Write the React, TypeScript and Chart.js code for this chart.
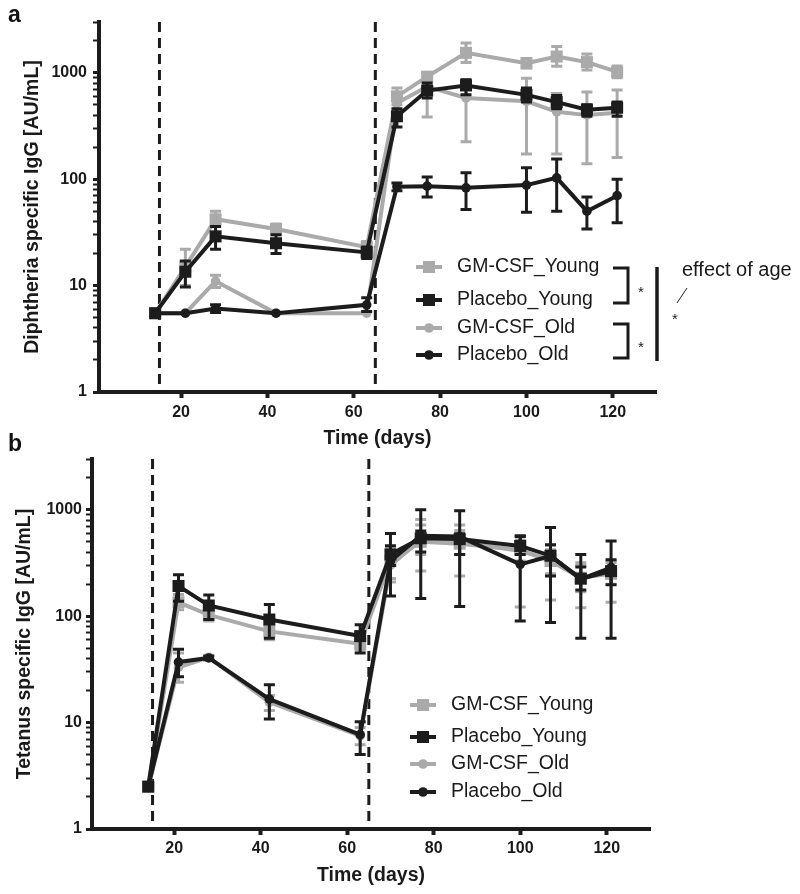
import React, { useEffect, useRef } from 'react';
import { Chart, registerables } from 'chart.js';
Chart.register(...registerables);

// ---------- shared data ----------
const days = [14, 21, 28, 42, 63, 70, 77, 86, 100, 107, 114, 121];
const seriesNames = ['GM-CSF_Young', 'Placebo_Young', 'GM-CSF_Old', 'Placebo_Old'];
const xTicks = [20, 40, 60, 80, 100, 120];
const yLabelTicks = [1, 10, 100, 1000];
const yMinorSteps = [2, 3, 4, 5, 6, 7, 8, 9];
const vaccinationDays = [15, 65];

// ---------- panel a: Diphtheria ----------
const diphGmYoung = [5.5, 15, 42, 34, 23, 600, 920, 1540, 1230, 1420, 1260, 1020];
const diphGmYoungHi = [5.5, 22, 50, 38, 26, 720, 1000, 1900, 1360, 1770, 1500, 1160];
const diphGmYoungLo = [5.5, 10, 36, 30, 20, 500, 840, 1250, 1110, 1150, 1060, 900];

const diphPlYoung = [5.5, 13.5, 29, 25, 20.5, 390, 680, 760, 620, 530, 450, 470];
const diphPlYoungHi = [5.5, 17, 36, 30, 23, 460, 800, 860, 720, 610, 500, 530];
const diphPlYoungLo = [5.5, 9.7, 22, 20, 18, 310, 580, 620, 530, 460, 390, 390];

const diphGmOld = [5.5, 5.5, 11, 5.5, 5.5, 520, 740, 580, 540, 430, 400, 420];
const diphGmOldHi = [5.5, 5.5, 12.5, 5.5, 5.5, 650, 900, 860, 890, 640, 660, 690];
const diphGmOldLo = [5.5, 5.5, 9.6, 5.5, 5.5, 400, 385, 225, 172, 172, 140, 160];

const diphPlOld = [5.5, 5.5, 6.1, 5.5, 6.6, 85, 86, 83, 88, 103, 50, 70];
const diphPlOldHi = [5.5, 5.5, 6.6, 5.5, 7.7, 92, 105, 115, 128, 155, 68, 100];
const diphPlOldLo = [5.5, 5.5, 5.6, 5.5, 5.7, 78, 68, 52, 49, 50, 34, 39];

// ---------- panel b: Tetanus ----------
const tetGmYoung = [2.5, 135, 103, 72, 55, 330, 500, 480, 420, 330, 230, 250];
const tetGmYoungHi = [2.5, 160, 120, 85, 62, 444, 810, 720, 520, 465, 318, 318];
const tetGmYoungLo = [2.5, 115, 90, 60, 48, 226, 266, 238, 122, 142, 120, 135];

const tetPlYoung = [2.5, 192, 126, 93, 65, 380, 540, 530, 457, 370, 225, 265];
const tetPlYoungHi = [2.5, 245, 158, 129, 83, 460, 630, 595, 560, 470, 290, 340];
const tetPlYoungLo = [2.5, 138, 93, 62, 45, 300, 400, 380, 380, 238, 176, 197];

const tetGmOld = [2.5, 33, 41, 15.5, 7.5, 300, 520, 500, 410, 340, 230, 260];
const tetGmOldHi = [2.5, 45, 43, 18, 9, 420, 720, 640, 500, 420, 300, 330];
const tetGmOldLo = [2.5, 24, 39, 13, 6.2, 210, 380, 380, 330, 250, 170, 200];

const tetPlOld = [2.5, 37, 40.5, 16.6, 7.7, 330, 570, 560, 307, 368, 223, 286];
const tetPlOldHi = [2.5, 49, 42, 22.7, 10.2, 600, 1000, 980, 570, 680, 380, 510];
const tetPlOldLo = [2.5, 27, 39, 10.8, 5, 155, 147, 123, 90, 87, 62, 62];

// ---------- styles ----------
const GRAY = '#aaaaaa';
const BLACK = '#1c1c1c';
const FONT = '"Liberation Sans", Arial, Helvetica, sans-serif';

const seriesStyle = [
  { color: GRAY, style: 'rect', radius: 8.5, order: 1 },
  { color: BLACK, style: 'rect', radius: 8.5, order: 0 },
  { color: GRAY, style: 'circle', radius: 4.8, order: 1 },
  { color: BLACK, style: 'circle', radius: 4.8, order: 0 },
];

function buildDatasets(means: number[][], his: number[][], los: number[][]) {
  return means.map((m, s) => ({
    label: seriesNames[s],
    data: days.map((d, i) => ({ x: d, y: m[i] })),
    errHi: his[s],
    errLo: los[s],
    borderColor: seriesStyle[s].color,
    backgroundColor: seriesStyle[s].color,
    pointBackgroundColor: seriesStyle[s].color,
    pointBorderColor: seriesStyle[s].color,
    pointBorderWidth: 0,
    pointStyle: seriesStyle[s].style,
    pointRadius: seriesStyle[s].radius,
    borderWidth: 4,
    tension: 0,
    order: seriesStyle[s].order,
  }));
}

function drawMarker(ctx: CanvasRenderingContext2D, style: string, r: number, x: number, y: number, color: string) {
  ctx.fillStyle = color;
  ctx.beginPath();
  if (style === 'rect') {
    const s = Math.SQRT1_2 * r;
    ctx.rect(x - s, y - s, 2 * s, 2 * s);
  } else {
    ctx.arc(x, y, r, 0, Math.PI * 2);
  }
  ctx.fill();
}

const errorBarPlugin = {
  id: 'errorBars',
  beforeDatasetDraw(chart: any, args: any) {
    const ds = chart.data.datasets[args.index];
    if (!ds.errHi) return;
    const { ctx, scales } = chart;
    const x = scales.x, y = scales.y;
    ctx.save();
    ctx.strokeStyle = ds.borderColor;
    ctx.lineWidth = 3;
    ds.data.forEach((pt: any, i: number) => {
      const px = x.getPixelForValue(pt.x);
      const yh = y.getPixelForValue(ds.errHi[i]);
      const yl = y.getPixelForValue(ds.errLo[i]);
      if (Math.abs(yl - yh) < 1) return;
      ctx.beginPath();
      ctx.moveTo(px, yl); ctx.lineTo(px, yh);
      ctx.moveTo(px - 5.5, yl); ctx.lineTo(px + 5.5, yl);
      ctx.moveTo(px - 5.5, yh); ctx.lineTo(px + 5.5, yh);
      ctx.stroke();
    });
    ctx.restore();
  },
};

const dashedPlugin = {
  id: 'dashedLines',
  beforeDatasetsDraw(chart: any) {
    const { ctx, chartArea, scales } = chart;
    ctx.save();
    ctx.strokeStyle = BLACK;
    ctx.lineWidth = 3;
    ctx.setLineDash([10, 6]);
    vaccinationDays.forEach((d) => {
      const px = scales.x.getPixelForValue(d);
      ctx.beginPath();
      ctx.moveTo(px, chartArea.top);
      ctx.lineTo(px, chartArea.bottom);
      ctx.stroke();
    });
    ctx.restore();
  },
};

const decorPlugin = {
  id: 'decor',
  afterDraw(chart: any, _args: any, opts: any) {
    const { ctx } = chart;
    ctx.save();
    // panel label
    ctx.fillStyle = '#111';
    ctx.font = `bold 23px ${FONT}`;
    ctx.textBaseline = 'middle';
    ctx.textAlign = 'left';
    ctx.fillText(opts.panel.text, opts.panel.x, opts.panel.y);
    // legend
    const lg = opts.legend;
    ctx.font = `19.5px ${FONT}`;
    chart.data.datasets.forEach((ds: any, i: number) => {
      const yy = lg.rows[i];
      ctx.strokeStyle = ds.borderColor;
      ctx.lineWidth = 4;
      ctx.setLineDash([]);
      ctx.beginPath();
      ctx.moveTo(lg.x1, yy);
      ctx.lineTo(lg.x2, yy);
      ctx.stroke();
      drawMarker(ctx, ds.pointStyle, ds.pointRadius, (lg.x1 + lg.x2) / 2, yy, ds.borderColor);
      ctx.fillStyle = '#1a1a1a';
      ctx.fillText(ds.label, lg.textX, yy);
    });
    // significance annotations
    const an = opts.annot;
    if (an) {
      ctx.strokeStyle = '#1a1a1a';
      ctx.fillStyle = '#1a1a1a';
      ctx.lineWidth = 3;
      an.brackets.forEach((b: any) => {
        ctx.beginPath();
        ctx.moveTo(b.x0, b.y0);
        ctx.lineTo(b.x1, b.y0);
        ctx.lineTo(b.x1, b.y1);
        ctx.lineTo(b.x0, b.y1);
        ctx.stroke();
        ctx.font = `15px ${FONT}`;
        ctx.textAlign = 'center';
        ctx.fillText('*', b.sx, b.sy);
      });
      ctx.lineWidth = 3.5;
      ctx.beginPath();
      ctx.moveTo(an.bar.x, an.bar.y0);
      ctx.lineTo(an.bar.x, an.bar.y1);
      ctx.stroke();
      ctx.font = `20px ${FONT}`;
      ctx.textAlign = 'left';
      ctx.fillText(an.text.label, an.text.x, an.text.y);
      ctx.lineWidth = 1;
      ctx.beginPath();
      ctx.moveTo(an.slash.x0, an.slash.y0);
      ctx.lineTo(an.slash.x1, an.slash.y1);
      ctx.stroke();
      ctx.font = `15px ${FONT}`;
      ctx.textAlign = 'center';
      ctx.fillText('*', an.star.x, an.star.y);
    }
    ctx.restore();
  },
};

function makeConfig(p: any) {
  const yAll: number[] = [];
  yLabelTicks.forEach((t) => {
    yAll.push(t);
    if (t < 1000) yMinorSteps.forEach((m) => yAll.push(t * m));
  });
  yAll.push(2000, 3000);
  return {
    type: 'line',
    data: { datasets: p.datasets },
    plugins: [dashedPlugin, errorBarPlugin, decorPlugin],
    options: {
      responsive: false,
      animation: false,
      events: [],
      layout: { padding: { left: 0, top: p.padTop, right: p.padRight, bottom: 0 } },
      plugins: {
        legend: { display: false },
        tooltip: { enabled: false },
        decor: p.decor,
      },
      scales: {
        x: {
          type: 'linear',
          min: 1,
          max: 130,
          bounds: 'data',
          afterBuildTicks: (scale: any) => {
            scale.ticks = xTicks.map((v) => ({ value: v }));
          },
          afterFit: (scale: any) => {
            scale.height = p.xHeight;
          },
          border: { display: true, width: 4, color: BLACK },
          grid: {
            display: true,
            drawOnChartArea: false,
            drawTicks: true,
            tickLength: 6,
            tickWidth: 4,
            tickColor: BLACK,
            color: BLACK,
          },
          ticks: {
            color: '#1a1a1a',
            font: { family: FONT, size: 16, weight: 'bold' },
            padding: p.xTickPad,
            maxRotation: 0,
            autoSkip: false,
            callback: (v: any) => String(v),
          },
          title: {
            display: true,
            text: 'Time (days)',
            color: '#1a1a1a',
            font: { family: FONT, size: 19.5, weight: 'bold' },
            padding: { top: 0, bottom: p.xTitlePad },
          },
        },
        y: {
          type: 'logarithmic',
          min: 1,
          max: 3000,
          bounds: 'data',
          afterBuildTicks: (scale: any) => {
            scale.ticks = yAll.map((v) => ({ value: v, major: yLabelTicks.includes(v) }));
          },
          afterFit: (scale: any) => {
            scale.width = p.yWidth;
          },
          border: { display: true, width: 4, color: BLACK },
          grid: {
            display: true,
            drawOnChartArea: false,
            drawTicks: true,
            tickLength: 6,
            tickWidth: (c: any) => (c.tick && yLabelTicks.includes(c.tick.value) ? 3 : 2),
            tickColor: BLACK,
            color: BLACK,
          },
          ticks: {
            color: '#1a1a1a',
            font: { family: FONT, size: 16, weight: 'bold' },
            padding: p.yTickPad,
            autoSkip: false,
            callback: (v: any) => (yLabelTicks.includes(v) ? String(v) : ''),
          },
          title: {
            display: true,
            text: p.yTitle,
            color: '#1a1a1a',
            font: { family: FONT, size: 19.5, weight: 'bold' },
            padding: { top: p.yTitlePad, bottom: 0 },
          },
        },
      },
    },
  };
}

function ChartCanvas({ config, top, height }: { config: any; top: number; height: number }) {
  const ref = useRef<HTMLCanvasElement | null>(null);
  useEffect(() => {
    if (!ref.current) return;
    const chart = new Chart(ref.current, config);
    return () => chart.destroy();
  }, [config]);
  return (
    <canvas
      ref={ref}
      width={800}
      height={height}
      style={{ position: 'absolute', left: 0, top, width: 800, height }}
    />
  );
}

const configA = makeConfig({
  datasets: buildDatasets(
    [diphGmYoung, diphPlYoung, diphGmOld, diphPlOld],
    [diphGmYoungHi, diphPlYoungHi, diphGmOldHi, diphPlOldHi],
    [diphGmYoungLo, diphPlYoungLo, diphGmOldLo, diphPlOldLo]
  ),
  padTop: 22,
  padRight: 144,
  xHeight: 58,
  yWidth: 99,
  xTickPad: 5,
  xTitlePad: 0,
  yTickPad: 6,
  yTitlePad: 21,
  yTitle: 'Diphtheria specific IgG [AU/mL]',
  decor: {
    panel: { text: 'a', x: 8, y: 16 },
    legend: { x1: 416, x2: 442, textX: 457, rows: [267, 300, 328, 355] },
    annot: {
      brackets: [
        { x0: 613, x1: 628, y0: 268, y1: 303, sx: 641, sy: 293 },
        { x0: 613, x1: 628, y0: 324, y1: 358, sx: 641, sy: 348 },
      ],
      bar: { x: 657, y0: 267, y1: 361 },
      text: { label: 'effect of age', x: 682, y: 270 },
      slash: { x0: 687, y0: 288, x1: 677, y1: 303 },
      star: { x: 675, y: 320 },
    },
  },
});

const configB = makeConfig({
  datasets: buildDatasets(
    [tetGmYoung, tetPlYoung, tetGmOld, tetPlOld],
    [tetGmYoungHi, tetPlYoungHi, tetGmOldHi, tetPlOldHi],
    [tetGmYoungLo, tetPlYoungLo, tetGmOldLo, tetPlOldLo]
  ),
  padTop: 29,
  padRight: 150,
  xHeight: 65,
  yWidth: 92,
  xTickPad: 4,
  xTitlePad: 7,
  yTickPad: 4,
  yTitlePad: 13,
  yTitle: 'Tetanus specific IgG [AU/mL]',
  decor: {
    panel: { text: 'b', x: 8, y: 15 },
    legend: { x1: 410, x2: 436, textX: 451, rows: [275, 307, 334, 362] },
  },
});

export default function App() {
  return (
    <div style={{ position: 'absolute', left: 0, top: 0, width: 800, height: 894, background: '#fff' }}>
      <ChartCanvas config={configA} top={0} height={450} />
      <ChartCanvas config={configB} top={430} height={464} />
    </div>
  );
}
